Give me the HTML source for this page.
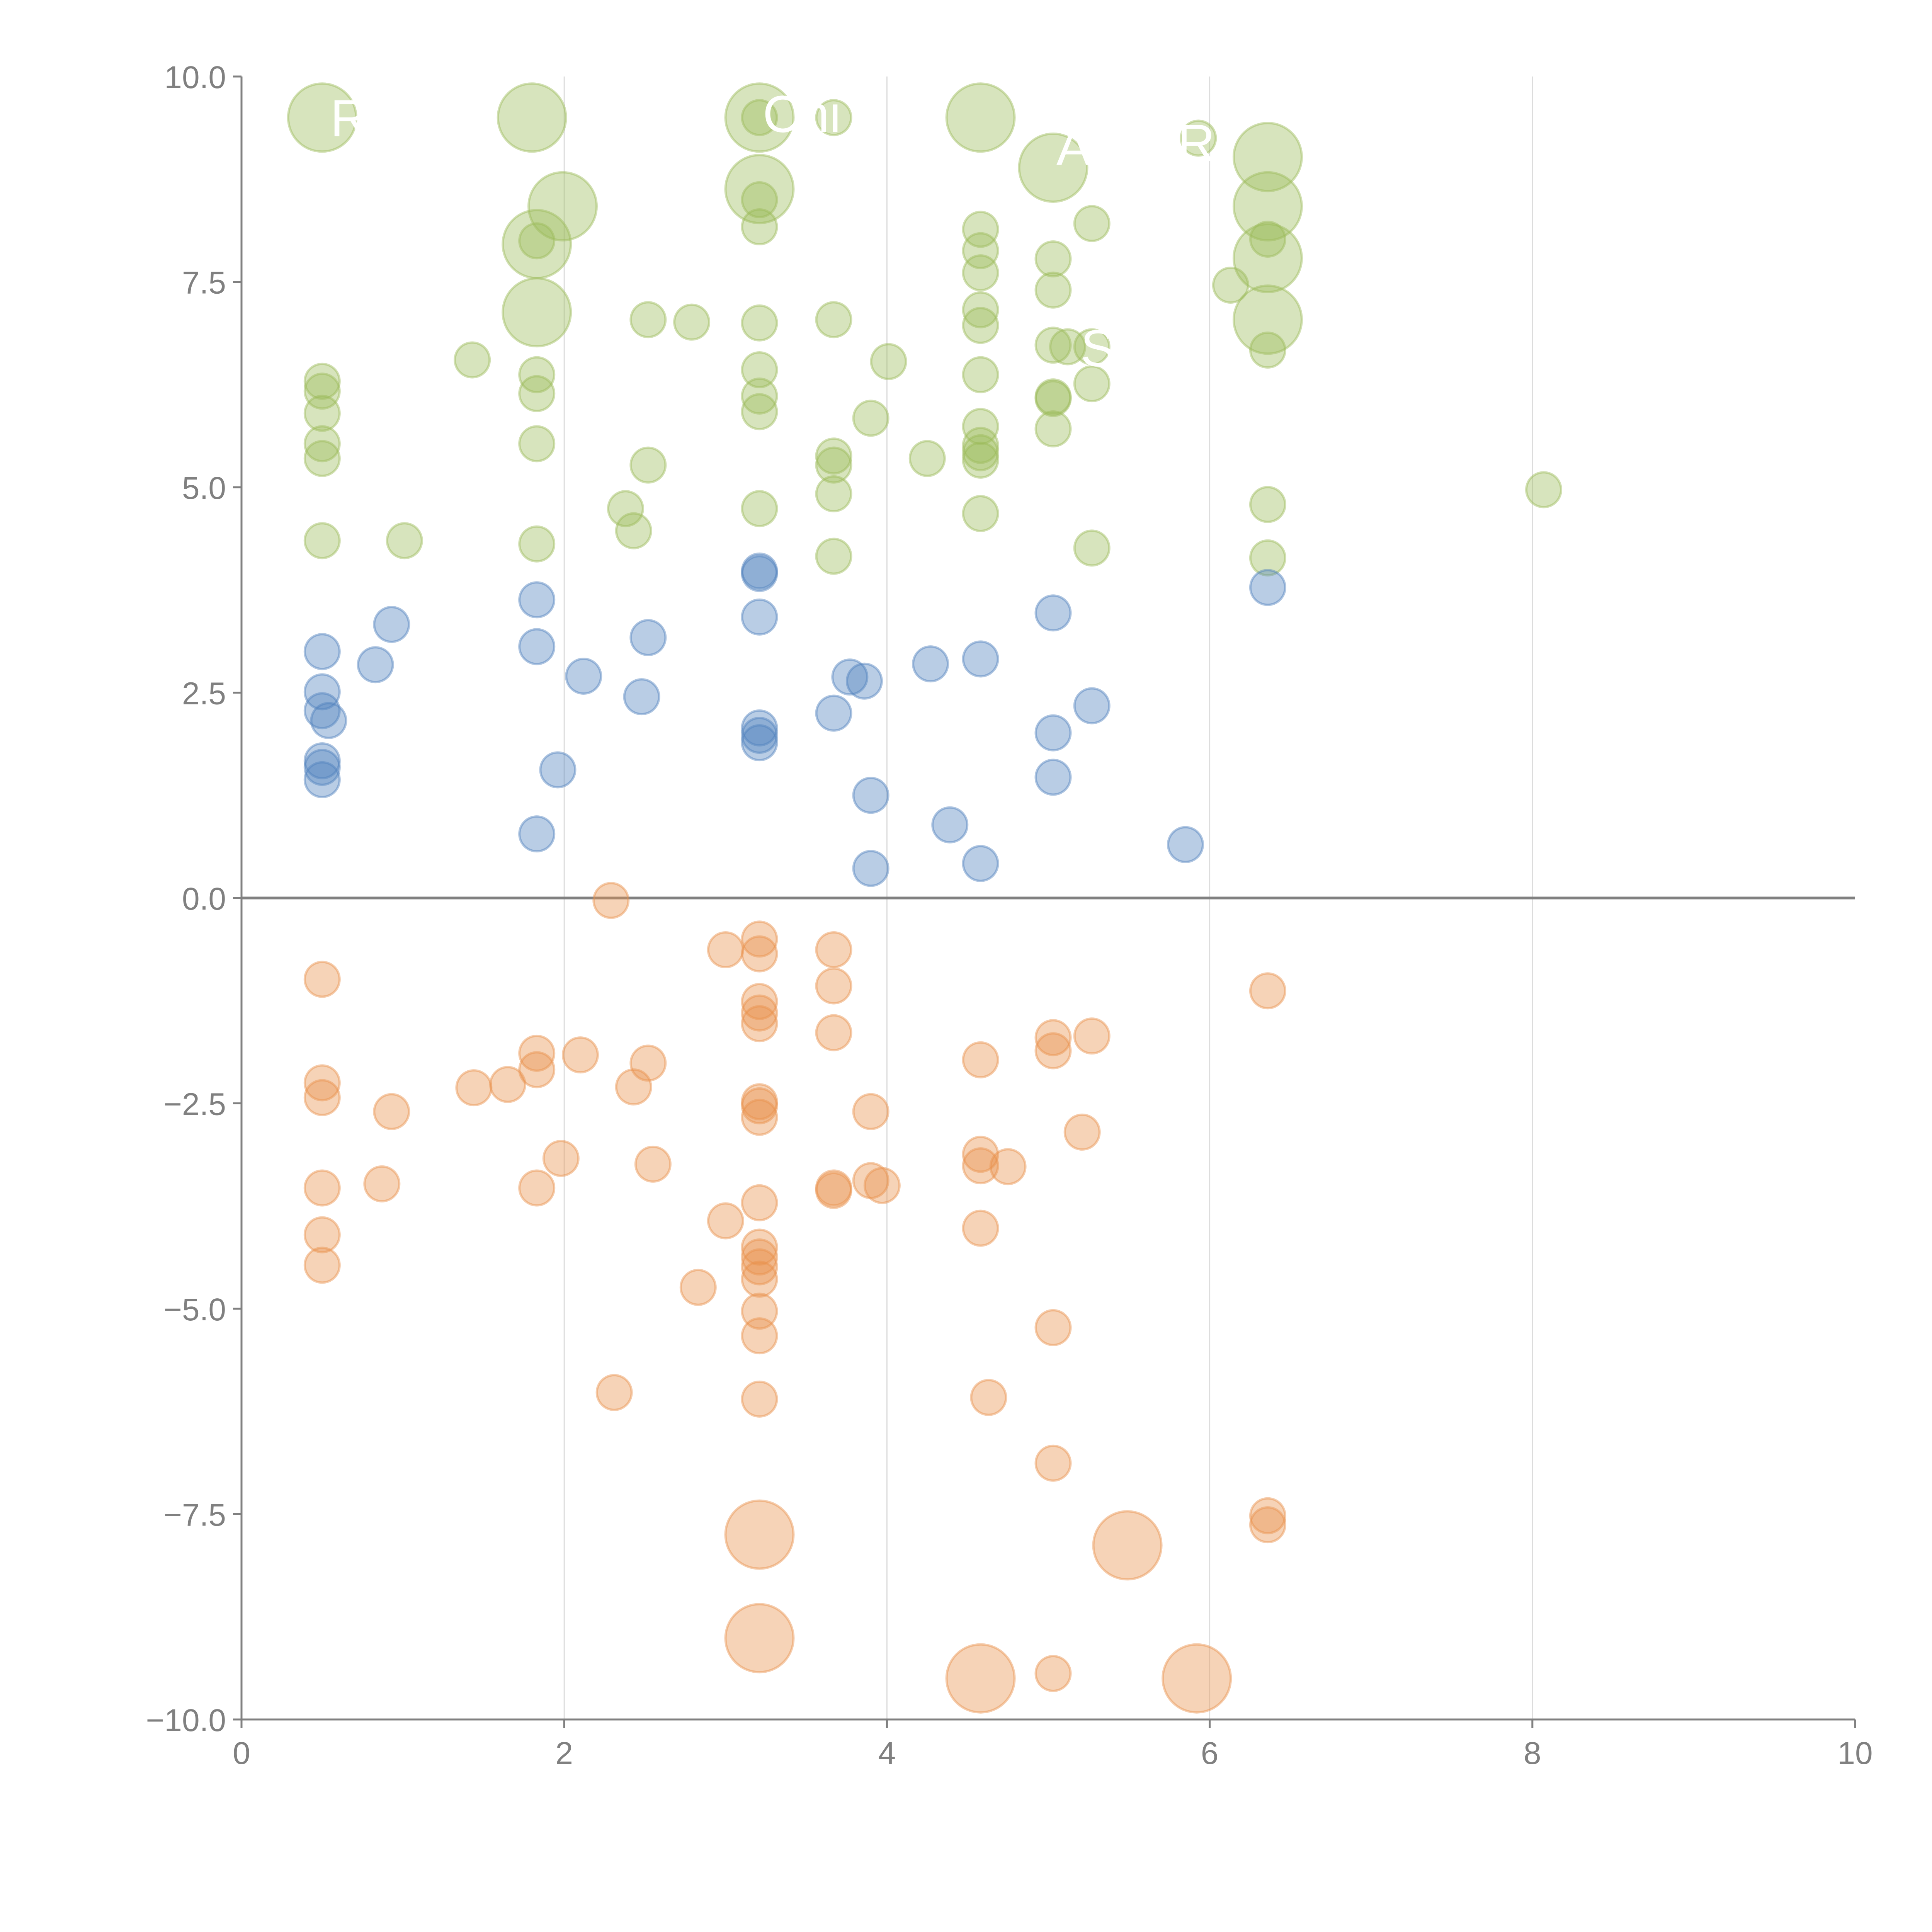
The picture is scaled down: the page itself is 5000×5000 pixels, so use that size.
<!DOCTYPE html>
<html><head><meta charset="utf-8"><style>html,body{margin:0;padding:0;background:#fff}svg{display:block}</style></head>
<body>
<svg id="chart" width="5000" height="5000" viewBox="0 0 5000 5000" xmlns="http://www.w3.org/2000/svg" font-family="'Liberation Sans', sans-serif"></svg>
<script>
const xTicks=[0,2,4,6,8,10];
const yTicks=[-10,-7.5,-5,-2.5,0,2.5,5,7.5,10];
const yTickLabels=["\u221210.0","\u22127.5","\u22125.0","\u22122.5","0.0","2.5","5.0","7.5","10.0"];
const greenX=[0.5,1.8,3.21,3.21,3.67,4.58,5.03,5.93,6.36,3.21,1.99,6.36,3.21,3.21,5.27,4.58,1.83,1.83,6.36,6.36,4.58,5.03,4.58,6.13,5.03,1.83,4.58,6.36,2.52,2.79,3.21,3.67,4.58,5.03,5.12,5.27,6.36,1.43,4.01,0.5,0.5,1.83,1.83,3.21,3.21,3.21,4.58,5.03,5.03,5.27,0.5,3.9,5.03,4.58,0.5,1.83,4.58,4.58,4.58,3.67,3.67,4.25,0.5,2.52,8.07,3.67,2.38,3.21,6.36,4.58,2.43,0.5,1.01,1.83,5.27,3.67,6.36];
const greenY=[9.5,9.5,9.5,9.5,9.5,9.5,8.89,9.25,9.02,8.63,8.42,8.42,8.5,8.17,8.21,8.14,7.96,8.0,8.02,7.79,7.88,7.78,7.61,7.46,7.4,7.13,7.16,7.04,7.04,7.01,7.0,7.04,6.97,6.73,6.71,6.71,6.67,6.55,6.53,6.29,6.17,6.37,6.14,6.43,6.11,5.92,6.37,6.1,6.08,6.26,5.9,5.84,5.71,5.74,5.53,5.53,5.51,5.42,5.33,5.38,5.27,5.35,5.35,5.27,4.97,4.92,4.74,4.74,4.79,4.68,4.47,4.35,4.35,4.31,4.26,4.16,4.14];
const greenS=[2,2,2,1,1,2,2,1,2,2,2,2,1,1,1,1,2,1,1,2,1,1,1,1,1,2,1,2,1,1,1,1,1,1,1,1,1,1,1,1,1,1,1,1,1,1,1,1,1,1,1,1,1,1,1,1,1,1,1,1,1,1,1,1,1,1,1,1,1,1,1,1,1,1,1,1,1];
const blueX=[3.21,3.21,6.36,1.83,3.21,5.03,0.93,2.52,0.5,1.83,0.83,4.27,4.58,2.12,3.77,3.86,0.5,2.48,5.27,0.5,3.67,0.54,3.21,3.21,3.21,5.03,0.5,0.5,1.96,0.5,5.03,3.9,4.39,1.83,5.85,4.58,3.9];
const blueY=[3.98,3.95,3.78,3.63,3.42,3.47,3.33,3.17,3.0,3.06,2.84,2.85,2.91,2.70,2.69,2.64,2.51,2.45,2.34,2.28,2.25,2.16,2.07,1.98,1.89,2.01,1.67,1.59,1.56,1.44,1.47,1.25,0.89,0.78,0.65,0.42,0.36];
const orangeX=[2.29,3.21,3.0,3.21,3.67,0.5,3.67,6.36,3.21,3.21,3.21,3.67,5.27,5.03,5.03,1.83,2.10,2.52,4.58,1.83,0.5,1.65,1.44,2.43,0.5,3.21,3.21,3.21,0.93,3.9,5.21,4.58,1.98,2.55,4.58,4.75,0.87,3.9,3.97,0.5,1.83,3.67,3.67,3.21,3.0,4.58,0.5,3.21,3.21,3.21,3.21,0.5,2.83,3.21,5.03,3.21,2.31,4.63,3.21,5.03,6.36,6.36,3.21,5.49,3.21,4.58,5.92,5.03];
const orangeY=[-0.03,-0.5,-0.63,-0.68,-0.63,-0.99,-1.07,-1.13,-1.26,-1.40,-1.53,-1.64,-1.68,-1.70,-1.86,-1.89,-1.91,-2.01,-1.97,-2.09,-2.25,-2.27,-2.31,-2.30,-2.43,-2.48,-2.53,-2.67,-2.6,-2.6,-2.85,-3.12,-3.17,-3.24,-3.26,-3.27,-3.48,-3.44,-3.5,-3.53,-3.53,-3.53,-3.56,-3.71,-3.93,-4.02,-4.1,-4.25,-4.37,-4.49,-4.64,-4.47,-4.74,-5.03,-5.23,-5.33,-6.02,-6.08,-6.10,-6.88,-7.52,-7.63,-7.75,-7.88,-9.01,-9.5,-9.5,-9.44];
const orangeS=[1,1,1,1,1,1,1,1,1,1,1,1,1,1,1,1,1,1,1,1,1,1,1,1,1,1,1,1,1,1,1,1,1,1,1,1,1,1,1,1,1,1,1,1,1,1,1,1,1,1,1,1,1,1,1,1,1,1,1,1,1,1,2,2,2,2,2,1];
const labelText=["R","Chi","A","R","S"];
const labelX=[0.55,3.23,5.05,5.8,5.2];
const labelY=[9.5,9.55,9.15,9.2,6.7];

const NS="http://www.w3.org/2000/svg";
const svg=document.getElementById('chart');
const X=v=>625+v*417.6;
const Y=v=>2324-v*212.6;
function mk(tag,attrs,parent){const e=document.createElementNS(NS,tag);for(const k in attrs)e.setAttribute(k,attrs[k]);(parent||svg).appendChild(e);return e;}

const grid=mk('g',{});


[2,4,6,8].forEach(v=>{const l=mk('line',{x1:X(v),x2:X(v),y1:Y(10),y2:Y(-10),stroke:'#dcdcdc','stroke-width':3},grid);

});

const zl=mk('line',{x1:X(0),x2:X(10),y1:Y(0),y2:Y(0),stroke:'#808080','stroke-width':7});



function series(xs,ys,ss,color,name){
  const g=mk('g',{});
  
  
  xs.forEach((x,i)=>{
    const s=ss?ss[i]:1;
    const c=mk('circle',{cx:X(x),cy:Y(ys[i]),r:s===2?88:45,fill:color,'fill-opacity':0.4,stroke:color,'stroke-opacity':0.45,'stroke-width':6},g);
    
    
  });
}
series(greenX,greenY,greenS,'#9bbb59','green');
series(blueX,blueY,null,'#4f81bd','blue');
series(orangeX,orangeY,orangeS,'#e8914b','orange');

const lg=mk('g',{});


labelText.forEach((t,i)=>{const e=mk('text',{x:X(labelX[i]),y:Y(labelY[i])+48,fill:'#ffffff','font-size':135},lg);e.textContent=t;

});

const ya=mk('line',{x1:X(0),x2:X(0),y1:Y(10),y2:Y(-10),stroke:'#808080','stroke-width':5});


const xa=mk('line',{x1:X(0),x2:X(10),y1:Y(-10),y2:Y(-10),stroke:'#808080','stroke-width':5});



yTicks.forEach((v,i)=>{
  mk('line',{x1:X(0)-22,x2:X(0),y1:Y(v),y2:Y(v),stroke:'#808080','stroke-width':5});
  const t=mk('text',{x:X(0)-40,y:Y(v)+30,'text-anchor':'end',fill:'#808080','font-size':82});
  t.textContent=yTickLabels[i];
  
  
});
xTicks.forEach(v=>{
  mk('line',{x1:X(v),x2:X(v),y1:Y(-10),y2:Y(-10)+22,stroke:'#808080','stroke-width':5});
  const t=mk('text',{x:X(v),y:Y(-10)+115,'text-anchor':'middle',fill:'#808080','font-size':82});
  t.textContent=String(v);
  
  
});
</script>
</body></html>
